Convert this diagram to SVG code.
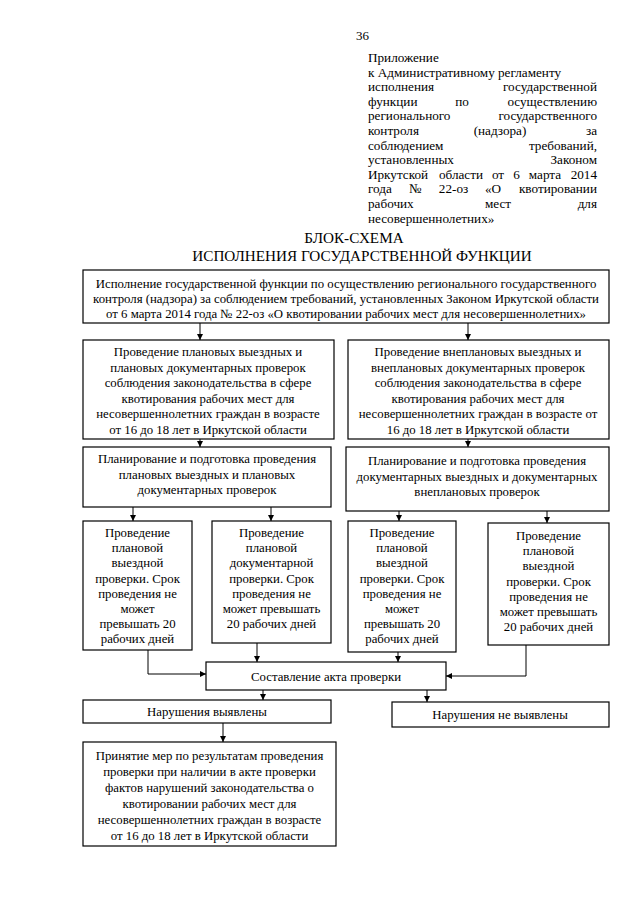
<svg xmlns="http://www.w3.org/2000/svg" width="640" height="905" viewBox="0 0 640 905">
<style>
text{font-family:"Liberation Serif","Times New Roman",serif;fill:#000}
.h{font-size:13.2px}
.t{font-size:15.2px;text-anchor:middle}
.b{font-size:12.8px;text-anchor:middle}
.e{text-anchor:end}
.m{text-anchor:middle}
rect{fill:#fff;stroke:#000;stroke-width:1.2}
#connectors path{fill:none;stroke:#000;stroke-width:1}
</style>
<defs>
<marker id="ah" markerUnits="userSpaceOnUse" markerWidth="7" markerHeight="7" refX="6" refY="3" orient="auto">
<path d="M0,0 L6,3 L0,6 z" fill="#000"/>
</marker>
</defs>
<rect x="0" y="0" width="640" height="905" style="fill:#fff;stroke:none"/>
<g id="header">
<text x="356" y="40" style="font-size:13px">36</text>
<text class="h" x="368" y="62">Приложение</text>
<text class="h" x="368" y="76.6">к Административному регламенту</text>
<text class="h" x="368" y="91.2">исполнения</text><text class="h e" x="597" y="91.2">государственной</text>
<text class="h" x="368" y="105.8">функции</text><text class="h m" x="462" y="105.8">по</text><text class="h e" x="597" y="105.8">осуществлению</text>
<text class="h" x="368" y="120.4">регионального</text><text class="h e" x="597" y="120.4">государственного</text>
<text class="h" x="368" y="135">контроля</text><text class="h m" x="500" y="135">(надзора)</text><text class="h e" x="597" y="135">за</text>
<text class="h" x="368" y="149.6">соблюдением</text><text class="h e" x="597" y="149.6">требований,</text>
<text class="h" x="368" y="164.2">установленных</text><text class="h e" x="597" y="164.2">Законом</text>
<text class="h" x="368" y="178.8">Иркутской</text><text class="h m" x="461" y="178.8">области</text><text class="h m" x="498" y="178.8">от</text><text class="h m" x="516.5" y="178.8">6</text><text class="h m" x="545" y="178.8">марта</text><text class="h e" x="597" y="178.8">2014</text>
<text class="h" x="368" y="193.4">года</text><text class="h m" x="415.5" y="193.4">№</text><text class="h m" x="453.5" y="193.4">22-оз</text><text class="h m" x="493" y="193.4">«О</text><text class="h e" x="597" y="193.4">квотировании</text>
<text class="h" x="368" y="208">рабочих</text><text class="h m" x="498" y="208">мест</text><text class="h e" x="597" y="208">для</text>
<text class="h" x="368" y="222.6">несовершеннолетних»</text>
</g>
<g id="title">
<text class="t" x="354" y="243">БЛОК-СХЕМА</text>
<text class="t" x="362" y="261">ИСПОЛНЕНИЯ ГОСУДАРСТВЕННОЙ ФУНКЦИИ</text>
</g>
<g id="connectors">
<path d="M200,323 V340" marker-end="url(#ah)"/>
<path d="M468,323 V340" marker-end="url(#ah)"/>
<path d="M200,439 V447" marker-end="url(#ah)"/>
<path d="M468,439 V447" marker-end="url(#ah)"/>
<path d="M133,507 V521" marker-end="url(#ah)"/>
<path d="M271,507 V521" marker-end="url(#ah)"/>
<path d="M399,511 V521" marker-end="url(#ah)"/>
<path d="M547,511 V523" marker-end="url(#ah)"/>
<path d="M148,650 V674 H206" marker-end="url(#ah)"/>
<path d="M257,643 V662" marker-end="url(#ah)"/>
<path d="M398,652 V662" marker-end="url(#ah)"/>
<path d="M526,645 V676 H446" marker-end="url(#ah)"/>
<path d="M263,690 V700" marker-end="url(#ah)"/>
<path d="M427,690 V702" marker-end="url(#ah)"/>
<path d="M223,723 V742" marker-end="url(#ah)"/>
</g>
<g id="n-main">
<rect x="83" y="270" width="526" height="53"/>
<text class="b" x="346" y="288">Исполнение государственной функции по осуществлению регионального государственного</text>
<text class="b" x="346" y="303">контроля (надзора) за соблюдением требований, установленных Законом Иркутской области</text>
<text class="b" x="346" y="318">от 6 марта 2014 года № 22-оз «О квотировании рабочих мест для несовершеннолетних»</text>
</g>
<g id="n-plan">
<rect x="83" y="340" width="251" height="99"/>
<text class="b" x="208" y="356">Проведение плановых выездных и</text>
<text class="b" x="208" y="371.5">плановых документарных проверок</text>
<text class="b" x="208" y="387">соблюдения законодательства в сфере</text>
<text class="b" x="208" y="402.5">квотирования рабочих мест для</text>
<text class="b" x="208" y="418">несовершеннолетних граждан в возрасте</text>
<text class="b" x="208" y="433.5">от 16 до 18 лет в Иркутской области</text>
</g>
<g id="n-unplan">
<rect x="348" y="340" width="261" height="99"/>
<text class="b" x="478" y="356">Проведение внеплановых выездных и</text>
<text class="b" x="478" y="371.5">внеплановых документарных проверок</text>
<text class="b" x="478" y="387">соблюдения законодательства в сфере</text>
<text class="b" x="478" y="402.5">квотирования рабочих мест для</text>
<text class="b" x="478" y="418">несовершеннолетних граждан в возрасте от</text>
<text class="b" x="478" y="433.5">16 до 18 лет в Иркутской области</text>
</g>
<g id="n-plan-prep">
<rect x="83" y="447" width="248" height="60"/>
<text class="b" x="207" y="463">Планирование и подготовка проведения</text>
<text class="b" x="207" y="478.5">плановых выездных и плановых</text>
<text class="b" x="207" y="494">документарных проверок</text>
</g>
<g id="n-unplan-prep">
<rect x="346" y="447" width="263" height="64"/>
<text class="b" x="477" y="465">Планирование и подготовка проведения</text>
<text class="b" x="477" y="480.5">документарных выездных и документарных</text>
<text class="b" x="477" y="496">внеплановых проверок</text>
</g>
<g id="n-a">
<rect x="83" y="521" width="109" height="129"/>
<text class="b" x="137.5" y="537">Проведение</text>
<text class="b" x="137.5" y="552.2">плановой</text>
<text class="b" x="137.5" y="567.4">выездной</text>
<text class="b" x="137.5" y="582.6">проверки. Срок</text>
<text class="b" x="137.5" y="597.8">проведения не</text>
<text class="b" x="137.5" y="613">может</text>
<text class="b" x="137.5" y="628.2">превышать 20</text>
<text class="b" x="137.5" y="643.4">рабочих дней</text>
</g>
<g id="n-b">
<rect x="212" y="521" width="119" height="122"/>
<text class="b" x="271.5" y="537">Проведение</text>
<text class="b" x="271.5" y="552.2">плановой</text>
<text class="b" x="271.5" y="567.4">документарной</text>
<text class="b" x="271.5" y="582.6">проверки. Срок</text>
<text class="b" x="271.5" y="597.8">проведения не</text>
<text class="b" x="271.5" y="613">может превышать</text>
<text class="b" x="271.5" y="628.2">20 рабочих дней</text>
</g>
<g id="n-c">
<rect x="348" y="521" width="108" height="131"/>
<text class="b" x="402" y="537">Проведение</text>
<text class="b" x="402" y="552.2">плановой</text>
<text class="b" x="402" y="567.4">выездной</text>
<text class="b" x="402" y="582.6">проверки. Срок</text>
<text class="b" x="402" y="597.8">проведения не</text>
<text class="b" x="402" y="613">может</text>
<text class="b" x="402" y="628.2">превышать 20</text>
<text class="b" x="402" y="643.4">рабочих дней</text>
</g>
<g id="n-d">
<rect x="488" y="523" width="121" height="122"/>
<text class="b" x="548.5" y="540">Проведение</text>
<text class="b" x="548.5" y="555.2">плановой</text>
<text class="b" x="548.5" y="570.4">выездной</text>
<text class="b" x="548.5" y="585.6">проверки. Срок</text>
<text class="b" x="548.5" y="600.8">проведения не</text>
<text class="b" x="548.5" y="616">может превышать</text>
<text class="b" x="548.5" y="631.2">20 рабочих дней</text>
</g>
<g id="n-act">
<rect x="206" y="662" width="240" height="28"/>
<text class="b" x="326" y="680.5">Составление акта проверки</text>
</g>
<g id="n-found">
<rect x="83" y="700" width="248" height="23"/>
<text class="b" x="207" y="716">Нарушения выявлены</text>
</g>
<g id="n-notfound">
<rect x="392" y="702" width="217" height="25"/>
<text class="b" x="500" y="719">Нарушения не выявлены</text>
</g>
<g id="n-measures">
<rect x="83" y="742" width="253" height="104"/>
<text class="b" x="209.5" y="760">Принятие мер по результатам проведения</text>
<text class="b" x="209.5" y="776">проверки при наличии в акте проверки</text>
<text class="b" x="209.5" y="792">фактов нарушений законодательства о</text>
<text class="b" x="209.5" y="808">квотировании рабочих мест для</text>
<text class="b" x="209.5" y="824">несовершеннолетних граждан в возрасте</text>
<text class="b" x="209.5" y="840">от 16 до 18 лет в Иркутской области</text>
</g>
</svg>
